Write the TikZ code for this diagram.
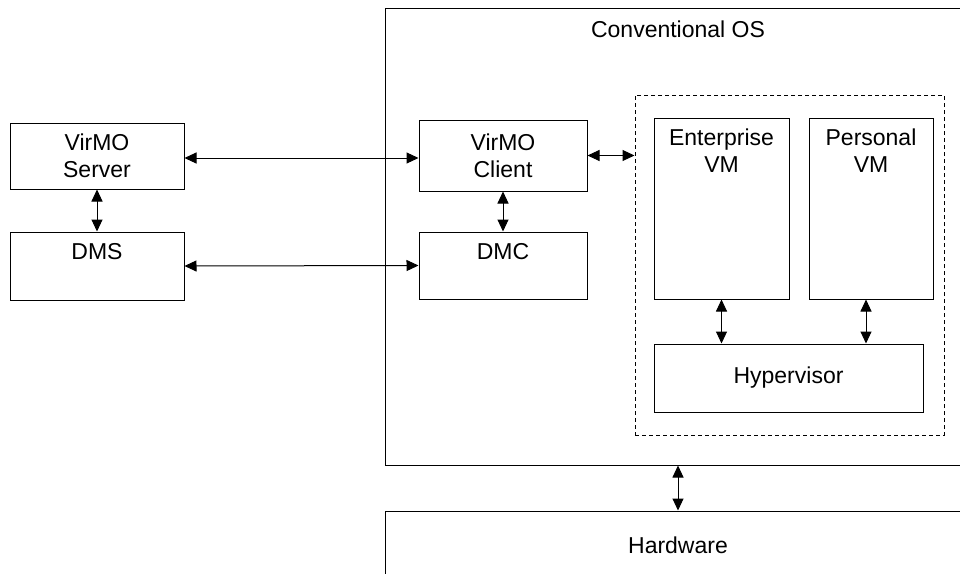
\documentclass[tikz,border=0pt]{standalone}
\usepackage{fontspec}
\setmainfont{Liberation Sans}
\usetikzlibrary{arrows.meta,positioning}
\tikzset{
  box/.style={draw,line width=1pt,inner sep=0pt,align=center},
  vmgroup/.style={box,dash pattern=on 4pt off 3pt},
  txt/.style={inner sep=0pt,align=center},
  link/.style={{Triangle[length=12pt,width=11pt]}-{Triangle[length=12pt,width=11pt]},line width=1pt},
}

\begin{document}
\begin{tikzpicture}[x=1pt,y=-1pt,font=\fontsize{23}{27}\selectfont]
\useasboundingbox (0,0) rectangle (960,573);
\clip (0,0) rectangle (960,573);
% host and hardware layers
\node[box,minimum width=586,minimum height=457] (os) at (678,236.5) {};
\node[txt,anchor=base] (ostxt) at (678,37) {Conventional OS};
\node[box,minimum width=586,minimum height=68] (hw) at (678,545) {Hardware};

% server side
\node[box,minimum width=174,minimum height=66] (server) at (97,156) {VirMO\\Server};
\node[box,minimum width=174,minimum height=68] (dms) at (97,266) {};
\node[txt,anchor=north,yshift=-12pt] (dmstxt) at (dms.north) {DMS};

% client side
\node[box,minimum width=168,minimum height=71] (client) at (503,155.5) {VirMO\\Client};
\node[box,minimum width=168,minimum height=67] (dmc) at (503,265.5) {};
\node[txt,anchor=north,yshift=-12pt] (dmctxt) at (dmc.north) {DMC};

% virtual machines
\node[vmgroup,minimum width=309,minimum height=340] (vms) at (789.5,265) {};
\node[box,minimum width=135,minimum height=181] (ent) at (721.5,208.5) {};
\node[txt,anchor=north,yshift=-11pt] (enttxt) at (ent.north) {Enterprise\\VM};
\node[box,minimum width=124,minimum height=181] (pers) at (871,208.5) {};
\node[txt,anchor=north,yshift=-11pt] (perstxt) at (pers.north) {Personal\\VM};
\node[box,minimum width=269,minimum height=68] (hyp) at (788.5,378) {Hypervisor};

\draw[link] ([yshift=-2pt]server.east) -- ([yshift=-2pt]server.east -| client.west);
\draw[link] (dms.east) -- (dmc.west);
\draw[link] (server) -- (dms);
\draw[link] (client) -- (dmc);
\draw[link] (client.east) -- (client.east -| vms.west);
\draw[link] (ent.south) -- (ent.south |- hyp.north);
\draw[link] ([xshift=-5pt]pers.south) -- ([xshift=-5pt]pers.south |- hyp.north);
\draw[link] (os.south) -- (hw.north);
\end{tikzpicture}
\end{document}
